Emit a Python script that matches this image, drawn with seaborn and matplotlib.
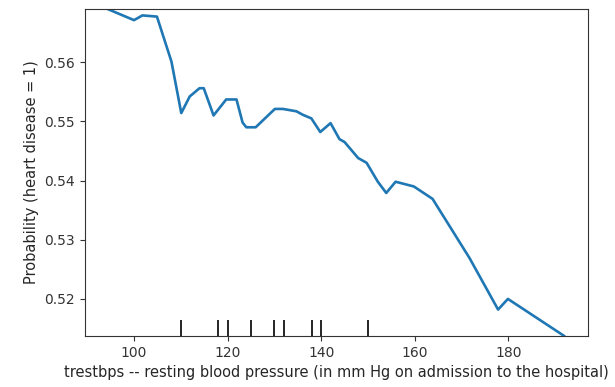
import pandas as pd
import matplotlib
matplotlib.use("Agg")
import matplotlib.pyplot as plt
import seaborn as sns

# Значения частичной зависимости
trestbps = [94, 100, 101.8, 104.9, 108, 110.1, 111.9, 114, 114.9, 117, 119.7, 121.9,
            123.2, 124, 126, 130.1, 131.8, 134.7, 136.1, 137.9, 139.8, 142, 143.9,
            145, 147.9, 149.7, 152.1, 153.9, 155.9, 159.8, 163.8, 171.7, 177.8,
            179.9, 192]
probability = [0.5691, 0.5671, 0.5679, 0.5677, 0.5601, 0.5514, 0.5542, 0.5556, 0.5556,
               0.5510, 0.5537, 0.5537, 0.5498, 0.5490, 0.5490, 0.5521, 0.5521, 0.5517,
               0.5511, 0.5505, 0.5482, 0.5497, 0.5470, 0.5465, 0.5438, 0.5430, 0.5398,
               0.5379, 0.5398, 0.5390, 0.5369, 0.5269, 0.5182, 0.5200, 0.5137]
# Децили признака (засечки внизу)
deciles = [110, 118, 120, 125, 130, 132, 138, 140, 150]

data = pd.DataFrame({"trestbps": trestbps, "prob": probability})

sns.set_style("ticks")
plt.rcParams["font.family"] = ["DejaVu Sans"]

fig = plt.figure(figsize=(6.15, 3.87), dpi=100)
ax = fig.add_axes([0.138, 0.132, 0.818, 0.845])

sns.lineplot(data=data, x="trestbps", y="prob", ax=ax, color="#1f77b4", linewidth=1.9)
ax.vlines(deciles, 0, 0.05, transform=ax.get_xaxis_transform(), color="black", linewidth=1.2)

ax.set_xlim(89.5, 197)
ax.set_ylim(0.51375, 0.5690)
ax.set_yticks([0.52, 0.53, 0.54, 0.55, 0.56])
ax.set_xticks([100, 120, 140, 160, 180])
ax.set_xlabel("trestbps -- resting blood pressure (in mm Hg on admission to the hospital)", fontsize=10.5)
ax.set_ylabel("Probability (heart disease = 1)", fontsize=10.5)
ax.tick_params(labelsize=10, colors="#333333")
for s in ax.spines.values():
    s.set_color("#333333")
    s.set_linewidth(0.8)

fig.savefig("out.png", dpi=100)
